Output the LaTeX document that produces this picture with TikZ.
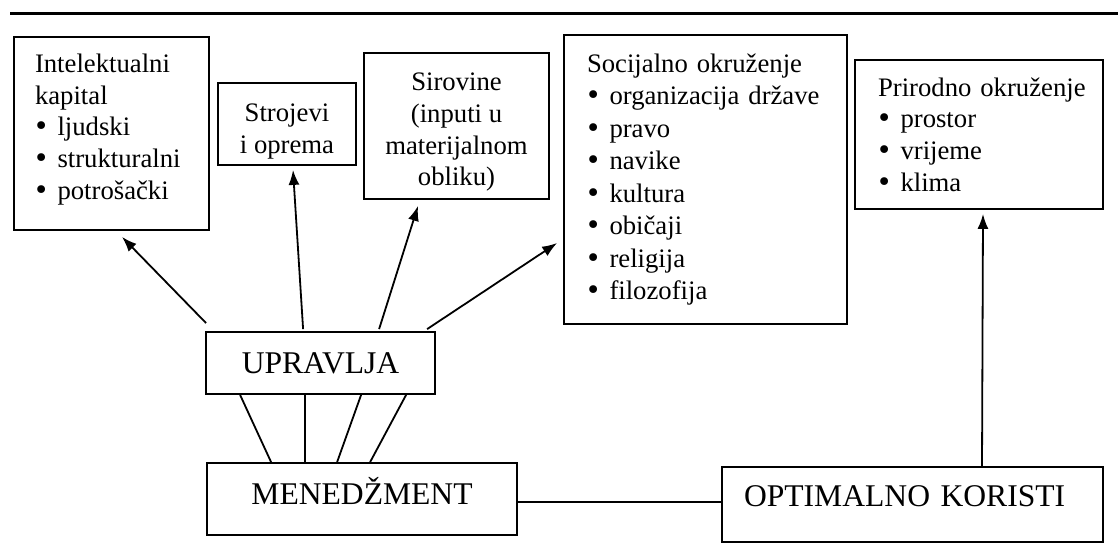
\documentclass[tikz,border=0pt]{standalone}
\usepackage{fontspec}
\setmainfont{Liberation Serif}
\newfontfamily\tockafont{DejaVu Sans}
\usetikzlibrary{arrows.meta}
\newcommand\tocka{\makebox[11.25pt][l]{\hspace{-0.8pt}{\tockafont •}}}
\begin{document}
\begin{tikzpicture}[x=0.5pt, y=-0.5pt,
    arrow/.style = {line width=0.9pt,-{Latex[length=7.5pt,width=5.5pt]}},
    link/.style = {line width=0.9pt},
    box/.style = {draw, line width=0.9pt, inner sep=0pt, font=\fontsize{13.35}{15.8}\selectfont},
    listbox/.style 2 args = {box, align=left, inner xsep=#1, text width=#2},
    bigbox/.style = {draw, line width=0.9pt, inner sep=0pt, font=\fontsize{15.8}{19}\selectfont, text height=10.4pt}]
                    \useasboundingbox (0,0) rectangle (1118,556);
                    \draw[line width=1.5pt] (10,14) -- (1118,14);

                    \node [listbox={10.5pt}{76.5pt}, minimum height=96.5pt] (kap) at (111.5,133.5)
                        {Intelektualni\\ kapital\\ \tocka ljudski\\ \tocka strukturalni\\ \tocka potrošački\rule[-6.9pt]{0pt}{1pt}};
                    \node [box, align=center, minimum width=69pt, minimum height=41pt] (stroj) at (287,124)
                        {\rule{0pt}{16.2pt}Strojevi\\ i oprema};
                    \node [box, align=center, minimum width=92.5pt, minimum height=73pt] (sir) at (456.5,126)
                        {\rule{0pt}{15.2pt}Sirovine\\ (inputi u\\ materijalnom\\ obliku)};
                    \node [listbox={11.5pt}{118.5pt}, minimum height=144.5pt, font=\fontsize{13.35}{16.25}\selectfont] (soc) at (705.5,179.5)
                        {Socijalno~okruženje\\ \tocka organizacija~države\\ \tocka pravo\\ \tocka navike\\ \tocka kultura\\ \tocka običaji\\ \tocka religija\\ \tocka filozofija};
                    \node [listbox={11.5pt}{101pt}, minimum height=74.5pt] (pri) at (979,134.5)
                        {Prirodno~okruženje\\ \tocka prostor\\ \tocka vrijeme\\ \tocka klima};

                    \node [bigbox, text depth=0pt, minimum width=114.5pt, minimum height=31pt] (upr) at (320.5,363) {UPRAVLJA};
                    \node [bigbox, text depth=5pt, minimum width=155pt, minimum height=36pt] (men) at (362,499) {MENEDŽMENT};
                    \node [bigbox, text depth=8pt, align=left, inner xsep=11pt, text width=168.5pt, minimum height=37.5pt] (opt) at (912.5,504.5) {OPTIMALNO KORISTI};

                    \draw[arrow] ([xshift=0.5pt,yshift=4pt]upr.north west) -- ([xshift=5.25pt,yshift=-3pt]kap.south);
                    \draw[arrow] ([xshift=49pt,yshift=1pt]upr.north west) -- ([xshift=3pt,yshift=-2pt]stroj.south);
                    \draw[arrow] ([xshift=87pt,yshift=1pt]upr.north west) -- ([xshift=-19.25pt,yshift=-3pt]sir.south);
                    \draw[arrow] ([xshift=111pt,yshift=1pt]upr.north west) -- ([xshift=-3pt,yshift=-31.75pt]soc.west);

                    \draw[link] ([xshift=17.5pt]upr.south west) -- ([xshift=32.5pt]men.north west);
                    \draw[link] ([xshift=50pt]upr.south west) -- ([xshift=49.5pt]men.north west);
                    \draw[link] ([xshift=78pt]upr.south west) -- ([xshift=65.5pt]men.north west);
                    \draw[link] ([xshift=100.5pt]upr.south west) -- ([xshift=82pt]men.north west);

                    \draw[link] ([yshift=-1.5pt]men.east) -- ([yshift=1.25pt]opt.west);
                    \draw[arrow] ([xshift=34.75pt]opt.north) -- ([xshift=2pt,yshift=-2pt]pri.south);
                \end{tikzpicture}
\end{document}
